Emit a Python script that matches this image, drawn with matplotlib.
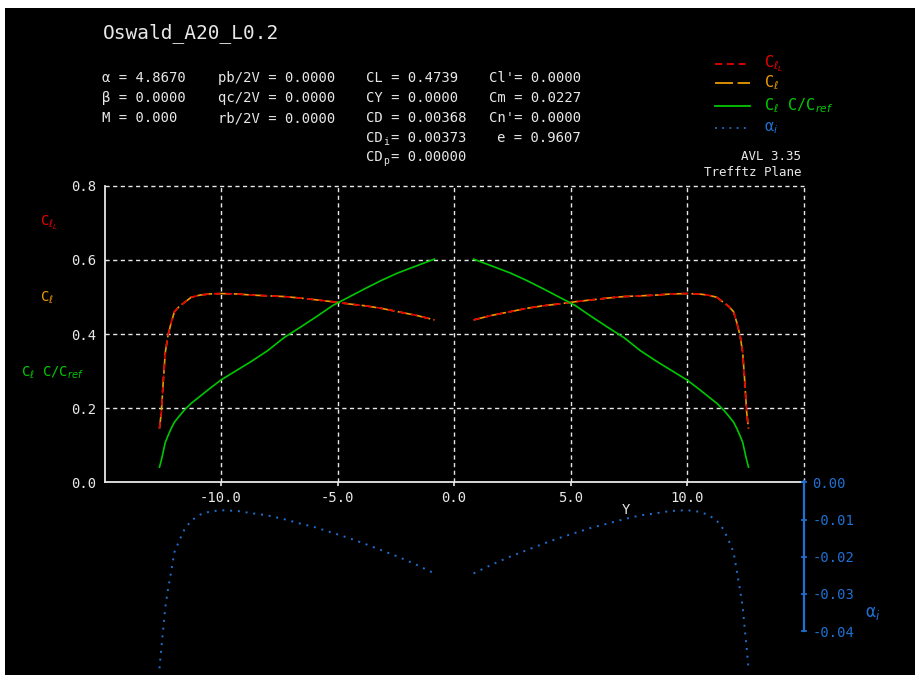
import numpy as np
import matplotlib
matplotlib.use("Agg")
import matplotlib.pyplot as plt
from matplotlib.lines import Line2D
from matplotlib.patches import Rectangle

plt.rcParams["axes.unicode_minus"] = False

# spanwise stations (left half, then right half)
Y_LEFT = [-12.64, -12.56, -12.47, -12.39, -12.28, -12.14, -12.0, -11.8, -11.57, -11.28,
          -10.9, -10.5, -10.0, -9.3, -8.7, -8.0, -7.3, -6.6, -5.9, -5.2,
          -4.5, -3.8, -3.1, -2.4, -1.6, -0.84]
Y_RIGHT = [0.84, 1.6, 2.4, 3.1, 3.8, 4.5, 5.2, 5.9, 6.6, 7.3,
           8.0, 8.7, 9.3, 10.0, 10.5, 10.9, 11.28, 11.57, 11.8, 12.0,
           12.14, 12.28, 12.39, 12.47, 12.56, 12.64]

CL_LEFT = [0.145, 0.19, 0.28, 0.35, 0.395, 0.43, 0.46, 0.474, 0.485, 0.499,
           0.505, 0.508, 0.509, 0.508, 0.505, 0.503, 0.501, 0.497, 0.492, 0.487,
           0.481, 0.476, 0.469, 0.460, 0.450, 0.438]
CL_RIGHT = [0.438, 0.450, 0.460, 0.469, 0.476, 0.481, 0.487, 0.492, 0.497, 0.501,
            0.503, 0.505, 0.508, 0.509, 0.508, 0.505, 0.499, 0.485, 0.474, 0.46,
            0.43, 0.395, 0.35, 0.28, 0.19, 0.145]

CLC_LEFT = [0.041, 0.06, 0.085, 0.108, 0.125, 0.145, 0.162, 0.178, 0.195, 0.213,
            0.232, 0.252, 0.276, 0.303, 0.326, 0.355, 0.39, 0.418, 0.447, 0.477,
            0.50, 0.523, 0.545, 0.565, 0.584, 0.602]
CLC_RIGHT = [0.602, 0.584, 0.565, 0.545, 0.523, 0.50, 0.477, 0.447, 0.418, 0.39,
             0.355, 0.326, 0.303, 0.276, 0.252, 0.232, 0.213, 0.195, 0.178, 0.162,
             0.145, 0.125, 0.108, 0.085, 0.06, 0.041]

AI_LEFT = [-0.0500, -0.0445, -0.0388, -0.0336, -0.0290, -0.0240, -0.0188, -0.0158, -0.0127, -0.0103,
           -0.0087, -0.0079, -0.0075, -0.0077, -0.0083, -0.0089, -0.0099, -0.0111, -0.0122, -0.0136,
           -0.0150, -0.0166, -0.0183, -0.0200, -0.0222, -0.0245]
AI_RIGHT = [-0.0245, -0.0222, -0.0200, -0.0183, -0.0166, -0.0150, -0.0136, -0.0122, -0.0111, -0.0099,
            -0.0089, -0.0083, -0.0077, -0.0075, -0.0079, -0.0087, -0.0103, -0.0127, -0.0158, -0.0188,
            -0.0240, -0.0290, -0.0336, -0.0388, -0.0445, -0.0500]

X_TICKS = [-10.0, -5.0, 0.0, 5.0, 10.0]
CL_TICKS = [0.0, 0.2, 0.4, 0.6, 0.8]
AI_TICKS = [0.0, -0.01, -0.02, -0.03, -0.04]

RED = "#e60000"
ORANGE = "#e89a00"
GREEN = "#00c800"
BLUE = "#1f70d2"
FG = "#e8e8e8"
MONO = "DejaVu Sans Mono"

W, H = 915, 675


def px(x, y):
    return x / W, 1 - y / H


fig = plt.figure(figsize=(W / 100, H / 100), dpi=100, facecolor="white")
fig.add_artist(Rectangle(px(5, 675), 910 / W, 667 / H, transform=fig.transFigure,
                         facecolor="black", edgecolor="none", zorder=-10))

# Cl axes
x0, x1 = 104.5, 803.5
ax = fig.add_axes([x0 / W, 1 - 482.3 / H, (x1 - x0) / W, (482.3 - 185.7) / H])
ax.set_facecolor("none")
ax.set_xlim(-15, 15)
ax.set_ylim(0, 0.8)
for s in ("top", "right"):
    ax.spines[s].set_visible(False)
for s in ("left", "bottom"):
    ax.spines[s].set_color(FG)
    ax.spines[s].set_linewidth(1.3)

grid_kw = dict(color=FG, lw=1.0, ls=(0, (3, 2.5)), zorder=0, clip_on=False)
for yv in CL_TICKS[1:]:
    ax.axhline(yv, **grid_kw)
for xv in X_TICKS + [15.0]:
    ax.axvline(xv, **grid_kw)

ax.set_xticks(X_TICKS)
ax.set_xticklabels([f"{v:.1f}" for v in X_TICKS])
ax.set_yticks(CL_TICKS)
ax.set_yticklabels([f"{v:.1f}" for v in CL_TICKS])
ax.tick_params(axis="x", colors=FG, length=3, width=1.2, direction="out", pad=3,
               labelsize=10)
ax.tick_params(axis="y", colors=FG, length=0, pad=6, labelsize=10)
for lbl in ax.get_xticklabels() + ax.get_yticklabels():
    lbl.set_family(MONO)

for ys, vals in ((Y_LEFT, CL_LEFT), (Y_RIGHT, CL_RIGHT)):
    ax.plot(ys, vals, color=ORANGE, lw=1.2, ls=(0, (9, 2)))
    ax.plot(ys, vals, color=RED, lw=1.2, ls=(0, (4, 3)))
for ys, vals in ((Y_LEFT, CLC_LEFT), (Y_RIGHT, CLC_RIGHT)):
    ax.plot(ys, vals, color=GREEN, lw=1.2)

# induced angle axes below
ax2 = fig.add_axes([x0 / W, 0.0, (x1 - x0) / W, 192.7 / H])
ax2.set_facecolor("none")
ax2.set_xlim(-15, 15)
ax2.set_ylim(-192.7 / 3720, 0)
for s in ("top", "left", "bottom"):
    ax2.spines[s].set_visible(False)
ax2.spines["right"].set_color(BLUE)
ax2.spines["right"].set_linewidth(1.6)
ax2.spines["right"].set_bounds(-0.04, 0.0004)
ax2.set_xticks([])
ax2.yaxis.tick_right()
ax2.set_yticks(AI_TICKS)
ax2.set_yticklabels([f"{v:.2f}" for v in AI_TICKS])
ax2.tick_params(axis="y", colors=BLUE, direction="inout", length=5, width=1.2,
                pad=4, labelsize=10)
for lbl in ax2.get_yticklabels():
    lbl.set_family(MONO)
for ys, vals in ((Y_LEFT, AI_LEFT), (Y_RIGHT, AI_RIGHT)):
    ax2.plot(ys, vals, color=BLUE, lw=1.4, ls=(0, (1, 3)), clip_on=False)


def text(x, y, s, color=FG, size=10, **kw):
    kw.setdefault("va", "center")
    fig.text(*px(x, y), s, color=color, fontsize=size, family=MONO, **kw)


text(103, 33, "Oswald_A20_L0.2", size=14)

cw = 8.36
rows = [78.3, 98.3, 118.3, 138.3, 156.7]
text(101.7, rows[0], "α = 4.8670")
text(101.7, rows[1], "β = 0.0000")
text(101.7, rows[2], "M = 0.000")
text(217.7, rows[0], "pb/2V = 0.0000")
text(217.7, rows[1], "qc/2V = 0.0000")
text(217.7, rows[2], "rb/2V = 0.0000")
text(366, rows[0], "CL = 0.4739")
text(366, rows[1], "CY = 0.0000")
text(366, rows[2], "CD = 0.00368")
text(366, rows[3], "CD")
text(366 + 2 * cw, rows[3] + 4, "i", size=7)
text(366 + 3 * cw, rows[3], "= 0.00373")
text(366, rows[4], "CD")
text(366 + 2 * cw, rows[4] + 4, "p", size=7)
text(366 + 3 * cw, rows[4], "= 0.00000")
text(489, rows[0], "Cl'= 0.0000")
text(489, rows[1], "Cm = 0.0227")
text(489, rows[2], "Cn'= 0.0000")
text(497, rows[3], "e = 0.9607")

# legend
leg = [(64, RED, (0, (4, 2.5)), r"C$_{\ell_L}$"),
       (82.7, ORANGE, (0, (10, 2.5)), r"C$_\ell$"),
       (105.7, GREEN, "-", r"C$_\ell$ C/C$_{ref}$"),
       (127.7, BLUE, (0, (1, 3)), r"α$_i$")]
for yy, col, ls, lab in leg:
    (xa, ya), (xb, _) = px(715, yy), px(750, yy)
    fig.add_artist(Line2D([xa, xb], [ya, ya], color=col, ls=ls, lw=1.3,
                          transform=fig.transFigure))
    text(764, yy, lab, color=col, size=11)

text(801, 157, "AVL 3.35", size=9, ha="right")
text(801, 172.7, "Trefftz Plane", size=9, ha="right")

# curve labels beside the Cl axis
text(40, 223, r"C$_{\ell_L}$", color=RED, size=10)
text(40, 298, r"C$_\ell$", color=ORANGE, size=10)
text(21, 373, r"C$_\ell$ C/C$_{ref}$", color=GREEN, size=10)

text(625.7, 510, "Y", ha="center")
text(865, 613, r"α$_i$", color=BLUE, size=12)

fig.savefig("out.png", dpi=100, facecolor=fig.get_facecolor())
